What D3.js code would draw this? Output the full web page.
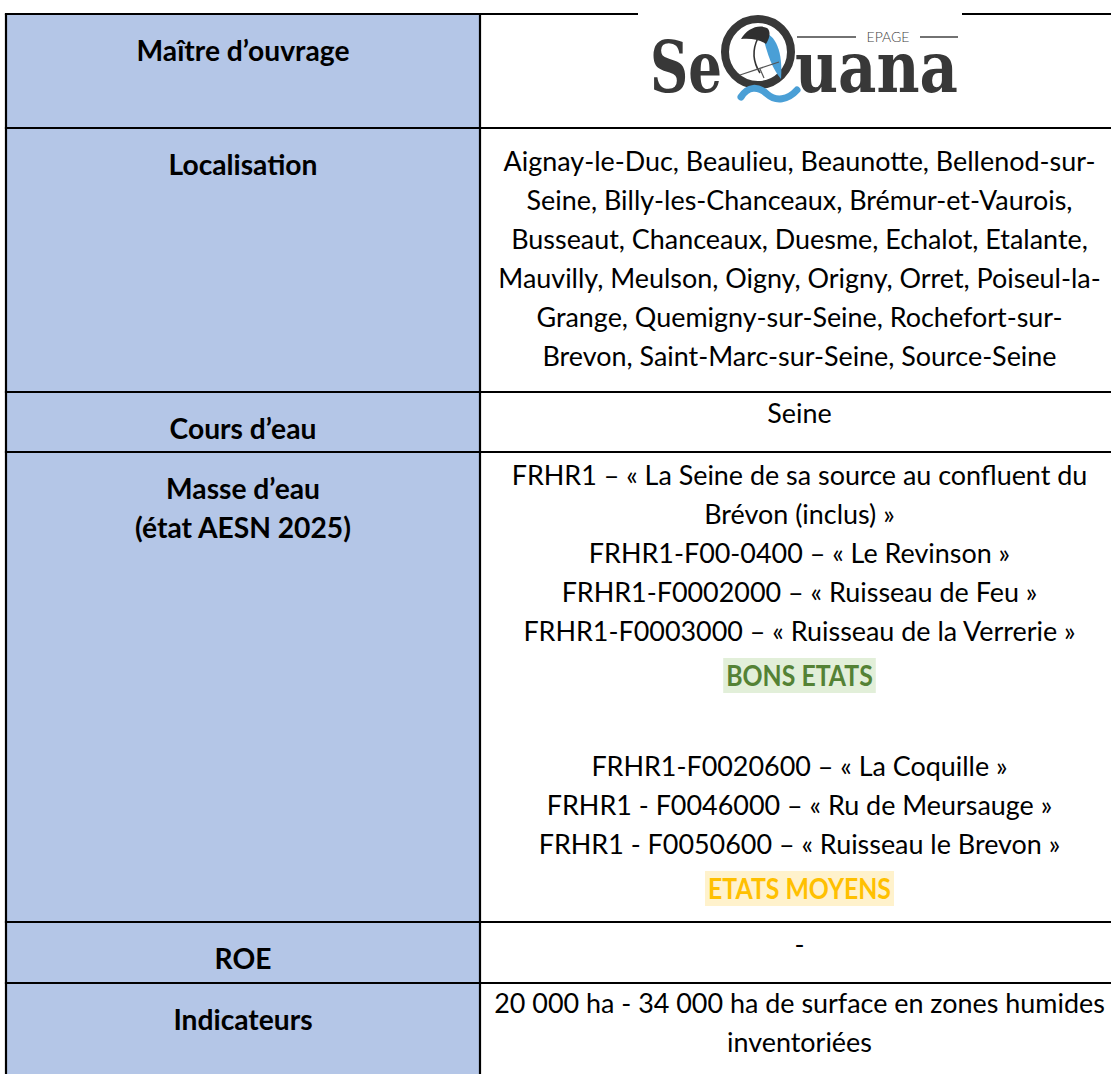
<!DOCTYPE html>
<html><head><meta charset="utf-8">
<script src="https://cdn.jsdelivr.net/npm/d3@7"></script>
<style>html,body{margin:0;padding:0;background:#fff;} svg{display:block}</style>
</head><body>
<svg id="c" width="1111" height="1074"></svg>
<script>
// ---------- DATA ----------
const rowLabels = [
  ["Maître d’ouvrage"],
  ["Localisation"],
  ["Cours d’eau"],
  ["Masse d’eau", "(état AESN 2025)"],
  ["ROE"],
  ["Indicateurs"]
];
const logoWords = ["Se", "uana", "EPAGE"];
const localisationLines = [
  "Aignay-le-Duc, Beaulieu, Beaunotte, Bellenod-sur-",
  "Seine, Billy-les-Chanceaux, Brémur-et-Vaurois,",
  "Busseaut, Chanceaux, Duesme, Echalot, Etalante,",
  "Mauvilly, Meulson, Oigny, Origny, Orret, Poiseul-la-",
  "Grange, Quemigny-sur-Seine, Rochefort-sur-",
  "Brevon, Saint-Marc-sur-Seine, Source-Seine"
];
const coursLines = ["Seine"];
const masseBonsLines = [
  "FRHR1 – « La Seine de sa source au confluent du",
  "Brévon (inclus) »",
  "FRHR1-F00-0400 – « Le Revinson »",
  "FRHR1-F0002000 – « Ruisseau de Feu »",
  "FRHR1-F0003000 – « Ruisseau de la Verrerie »"
];
const masseBonsStatus = "BONS ETATS";
const masseMoyensLines = [
  "FRHR1-F0020600 – « La Coquille »",
  "FRHR1 - F0046000 – « Ru de Meursauge »",
  "FRHR1 - F0050600 – « Ruisseau le Brevon »"
];
const masseMoyensStatus = "ETATS MOYENS";
const roeLines = ["-"];
const indicateursLines = [
  "20 000 ha - 34 000 ha de surface en zones humides",
  "inventoriées"
];

// ---------- LAYOUT ----------
const svg = d3.select("#c");
const tableLeft = 6, colSplit = 480, tableRight = 1119, tableTop = 14;
const rowHeights = [114, 264, 60, 470, 61, 130];
const rowPads = [0, 33, 21, 23, 22, 20];
const rowTops = [tableTop, ...d3.cumsum(rowHeights).map(v => tableTop + v)];
const LH = 39, LABEL_PAD = 37;
const labelCx = (tableLeft + colSplit) / 2;
const valueCx = (colSplit + tableRight) / 2;
const FONT = "Lato, 'Open Sans', sans-serif";

function fitSize(txt, target, weight) {
  const p = svg.append("text").attr("font-family", FONT).attr("font-weight", weight)
    .attr("font-size", 100).text(txt);
  const w = p.node().getComputedTextLength();
  p.remove();
  return 100 * target / w;
}
const FS = fitSize(localisationLines[0], 592, 400);
const FSB = fitSize(rowLabels[0][0], 213, 700);
const STATUS_SQUEEZE = 0.88;
const capOff = s => s * 0.36;

// content items per right cell
const n = t => ({text: t, kind: "normal"});
const rightCells = [
  null,
  localisationLines.map(n),
  coursLines.map(n),
  [...masseBonsLines.map(n), {text: masseBonsStatus, kind: "good"}, {text: "", kind: "blank"},
   ...masseMoyensLines.map(n), {text: masseMoyensStatus, kind: "medium"}],
  roeLines.map(n),
  indicateursLines.map(n)
];
const statusStyle = {
  good: {fill: "#548235", bg: "#E2EFD9"},
  medium: {fill: "#FFC000", bg: "#FFF2CC"}
};

// label column background
svg.append("g").selectAll("rect").data(rowHeights).join("rect")
  .attr("x", tableLeft).attr("y", (d, i) => rowTops[i])
  .attr("width", colSplit - tableLeft).attr("height", d => d)
  .attr("fill", "#B4C6E7");

// labels
const lg = svg.append("g");
rowLabels.forEach((lines, r) => {
  lines.forEach((t, j) => {
    const cy = rowTops[r] + LABEL_PAD + j * LH;
    lg.append("text").attr("x", labelCx).attr("y", cy + capOff(FSB))
      .attr("text-anchor", "middle").attr("font-family", FONT).attr("font-weight", 700)
      .attr("font-size", FSB).attr("fill", "#000").text(t);
  });
});

// right values
const vg = svg.append("g");
rightCells.forEach((items, r) => {
  if (!items) return;
  let y = rowTops[r] + rowPads[r];
  let prev = null;
  items.forEach((it, i) => {
    if (i > 0) {
      y += LH;
      if (it.kind !== "normal" || (prev && prev !== "normal")) y += 6;
    }
    prev = it.kind;
    if (it.kind === "blank") return;
    const st = statusStyle[it.kind];
    const size = st ? FSB : FS;
    const t = vg.append("text").attr("x", valueCx).attr("y", y + capOff(size))
      .attr("text-anchor", "middle").attr("font-family", FONT)
      .attr("font-weight", st ? 700 : 400).attr("font-size", size)
      .attr("fill", st ? st.fill : "#000").text(it.text);
    if (st) {
      const w = t.node().getComputedTextLength() * STATUS_SQUEEZE;
      t.attr("textLength", w).attr("lengthAdjust", "spacingAndGlyphs");
      vg.insert("rect", () => t.node())
        .attr("x", valueCx - w / 2 - 3).attr("y", y - 18).attr("width", w + 6).attr("height", 35)
        .attr("fill", st.bg);
    }
  });
});

// borders
const bg = svg.append("g").attr("stroke", "#000").attr("stroke-width", 2.2);
rowTops.forEach(y => bg.append("line").attr("x1", tableLeft - 1.1).attr("x2", tableRight).attr("y1", y).attr("y2", y));
[tableLeft, colSplit].forEach(x => bg.append("line").attr("x1", x).attr("x2", x)
  .attr("y1", tableTop).attr("y2", rowTops[rowTops.length - 1]));

// ---------- LOGO ----------
const logo = svg.append("g");
logo.append("rect").attr("x", 638).attr("y", 11).attr("width", 324).attr("height", 101).attr("fill", "#fff");
const dark = "#383838", blue = "#4A9FD6";
logo.append("circle").attr("cx", 758).attr("cy", 52).attr("r", 33)
  .attr("fill", "none").attr("stroke", dark).attr("stroke-width", 8);
logo.append("path").attr("d", "M762,32 C776,34 783,52 781,79 C773,70 767,55 762,32 Z").attr("fill", blue);
logo.append("path").attr("d", "M741,39 C747,29 758,24 767,28 C771,31 770,38 766,44 C760,40 752,38 741,39 Z").attr("fill", "#2f2f2f");
logo.append("path").attr("d", "M758,38 C752,50 753,62 760,73").attr("fill", "none").attr("stroke", "#333").attr("stroke-width", 1.6);
logo.append("path").attr("d", "M740,75 L779,62 M760,69 L764,78").attr("fill", "none").attr("stroke", "#555").attr("stroke-width", 1.2);
logo.append("path").attr("d", "M741,97 C748,86 758,86 767,94 C776,102 788,100 797,90")
  .attr("fill", "none").attr("stroke", blue).attr("stroke-width", 7).attr("stroke-linecap", "round");
logo.append("path").attr("d", "M797,37 H856 M920,37 H958").attr("stroke", "#444").attr("stroke-width", 1.5);
// the wordmark is one text element (one logo), with three tspans
const word = logo.append("text").attr("font-family", "'DejaVu Serif', serif")
  .attr("font-weight", 700).attr("font-size", 71).attr("fill", dark);
word.append("tspan").attr("x", 650).attr("y", 92)
  .attr("textLength", 72).attr("lengthAdjust", "spacingAndGlyphs").text(logoWords[0]);
word.append("tspan").attr("x", 795).attr("y", 92)
  .attr("textLength", 163).attr("lengthAdjust", "spacingAndGlyphs").text(logoWords[1]);
word.append("tspan").attr("x", 888).attr("y", 42).attr("text-anchor", "middle")
  .attr("font-family", FONT).attr("font-weight", 300).attr("font-size", 14).attr("fill", "#444")
  .text(logoWords[2]);
</script>
</body></html>
